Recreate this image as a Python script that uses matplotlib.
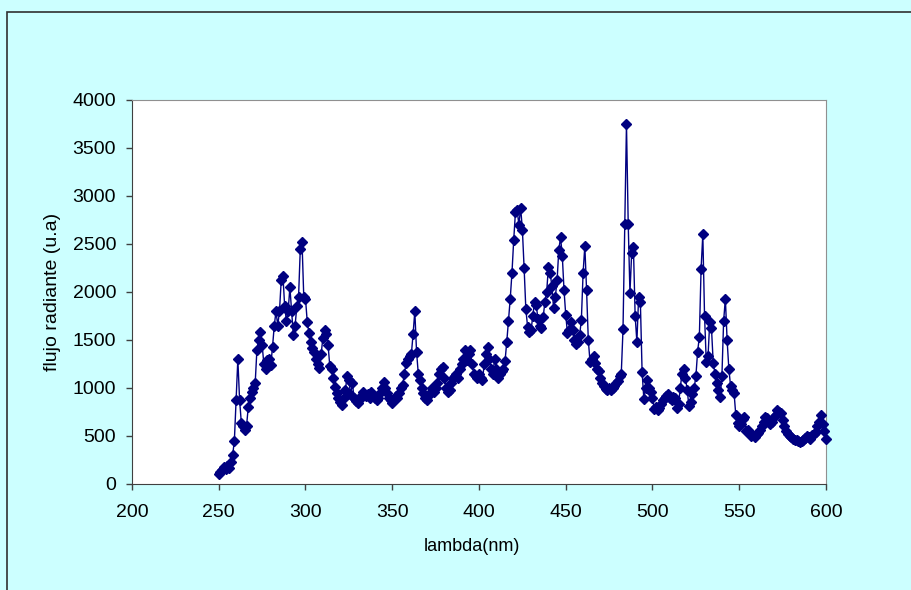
import matplotlib

matplotlib.use("Agg")
import matplotlib.pyplot as plt
from matplotlib.patches import Rectangle

# Longitud d'ona (nm), un punt per nm entre 250 i 600
lambda_inici = 250
lambda_final = 600

# Flux radiant (u.a), llegit del grafic
flux = [
    # 250-299
    100, 120, 150, 180, 160, 190, 170, 230, 300, 450,
    870, 1300, 880, 640, 600, 560, 600, 800, 900, 960,
    1000, 1050, 1400, 1500, 1580, 1450, 1250, 1200, 1290, 1300,
    1240, 1430, 1650, 1800, 1650, 1800, 2120, 2170, 1850, 1700,
    1800, 2050, 1800, 1550, 1650, 1850, 1950, 2450, 2520, 1950,
    # 300-349
    1930, 1690, 1570, 1480, 1420, 1380, 1300, 1250, 1210, 1350,
    1520, 1600, 1560, 1450, 1230, 1200, 1100, 1010, 950, 900,
    850, 820, 900, 980, 1130, 1080, 930, 1050, 900, 860,
    840, 880, 920, 960, 930, 920, 940, 900, 960, 930,
    900, 870, 900, 950, 1000, 1060, 1000, 950, 900, 880,
    # 350-399
    840, 880, 920, 900, 950, 1000, 1030, 1150, 1260, 1300,
    1330, 1350, 1560, 1800, 1380, 1150, 1080, 1000, 950, 900,
    880, 930, 950, 1000, 960, 1000, 1050, 1150, 1200, 1220,
    1100, 1000, 960, 980, 1050, 1100, 1120, 1150, 1100, 1200,
    1250, 1300, 1400, 1290, 1350, 1400, 1250, 1150, 1120, 1100,
    # 400-449
    1150, 1100, 1080, 1250, 1350, 1430, 1300, 1200, 1150, 1300,
    1200, 1100, 1150, 1180, 1200, 1280, 1480, 1700, 1930, 2200,
    2540, 2830, 2850, 2700, 2880, 2650, 2250, 1820, 1640, 1580,
    1600, 1750, 1900, 1860, 1720, 1650, 1620, 1740, 1900, 2000,
    2260, 2200, 2060, 1830, 1950, 2120, 2440, 2570, 2380, 2020,
    # 450-499
    1760, 1570, 1600, 1690, 1600, 1500, 1460, 1480, 1550, 1710,
    2200, 2480, 2020, 1500, 1270, 1300, 1330, 1260, 1200, 1180,
    1100, 1050, 1020, 990, 980, 1000, 980, 1000, 1020, 1050,
    1070, 1120, 1150, 1610, 2710, 3750, 2710, 1990, 2410, 2470,
    1750, 1480, 1950, 1900, 1170, 890, 1000, 1080, 1000, 960,
    # 500-549
    900, 780, 800, 770, 790, 830, 870, 900, 920, 940,
    900, 880, 910, 900, 790, 830, 1000, 1150, 1200, 1100,
    980, 810, 850, 940, 1000, 1120, 1380, 1530, 2240, 2600,
    1750, 1270, 1330, 1690, 1620, 1260, 1150, 1050, 980, 910,
    1120, 1700, 1930, 1500, 1200, 1020, 980, 950, 720, 640,
    # 550-600
    600, 630, 680, 700, 550, 560, 520, 500, 510, 490,
    520, 530, 560, 600, 650, 700, 690, 650, 620, 650,
    700, 720, 770, 750, 740, 670, 600, 550, 520, 500,
    490, 470, 460, 455, 450, 440, 450, 460, 480, 500,
    490, 470, 510, 520, 540, 600, 650, 720, 620, 550,
    470,
]

longituds = list(range(lambda_inici, lambda_final + 1))

plt.rcParams["font.family"] = ["Liberation Sans", "DejaVu Sans"]

fig = plt.figure(figsize=(9.12, 5.9), dpi=100)
fig.patch.set_facecolor("#CCFFFF")

# Marc exterior del grafic (nomes es veuen els costats esquerre i superior)
marc = Rectangle((7 / 912, -0.1), 1.2, (590 - 12) / 590 + 0.1,
                 transform=fig.transFigure, fill=False,
                 edgecolor="#303030", linewidth=1.2)
fig.patches.append(marc)

ax = fig.add_axes([132 / 912, (590 - 484) / 590, (826 - 132) / 912, 384 / 590])
ax.set_facecolor("white")

ax.plot(longituds, flux, color="#000080", linewidth=1.0,
        marker="D", markersize=5, markerfacecolor="#000080",
        markeredgecolor="#000080", clip_on=False, zorder=3)

ax.set_xlim(200, 600)
ax.set_ylim(0, 4000)
ax.set_xticks(range(200, 601, 50))
ax.set_yticks(range(0, 4001, 500))

ax.set_xlabel("lambda(nm)", fontsize=13, labelpad=12)
ax.xaxis.label.set_x(0.49)
ax.set_ylabel("flujo radiante (u.a)", fontsize=14, labelpad=8)

ax.tick_params(direction="out", length=4.5, width=1, colors="#404040",
               labelcolor="black", labelsize=14)
ax.tick_params(axis="x", pad=10)
ax.tick_params(axis="y", pad=7)

for costat in ["top", "right"]:
    ax.spines[costat].set_color("#909090")
for costat in ["left", "bottom"]:
    ax.spines[costat].set_color("#404040")

fig.savefig("out.png", dpi=100, facecolor=fig.get_facecolor())
